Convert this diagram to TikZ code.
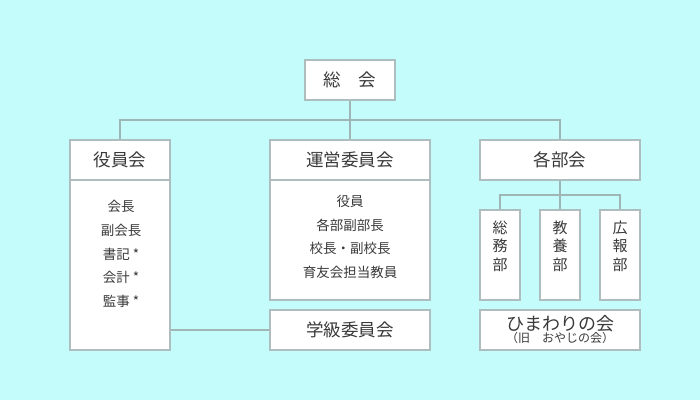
\documentclass[tikz,border=0pt]{standalone}
\usepackage{fontspec}
\setmainfont{Noto Sans CJK JP}
\usepackage{xcolor}
\definecolor{bgcyan}{HTML}{C4FCFC}
\definecolor{boxgray}{HTML}{AEBEBE}
\definecolor{linegray}{HTML}{A0B6B6}
\definecolor{textgray}{HTML}{3A3A3A}
\tikzset{
	box/.style={draw=boxgray, line width=1.6pt, fill=white, inner sep=0pt, text=textgray},
	headbox/.style={box, font=\fontsize{17.5}{21}\selectfont},
	listtext/.style={text=textgray, align=center, inner sep=0pt, font=\fontsize{13.5}{23.7}\selectfont},
	subtext/.style={text=textgray, align=center, inner sep=0pt, font=\fontsize{15}{18.5}\selectfont},
	link/.style={draw=linegray, line width=1.6pt}
}

\begin{document}
\begin{tikzpicture}[x=1pt, y=-1pt]
	\fill[bgcyan] (0,0) rectangle (700,400);
	\useasboundingbox (0,0) rectangle (700,400);

	% 総会
	\node[headbox, minimum width=90, minimum height=40] (soukai) at (350,80) {総　会};

	% 役員会
	\node[headbox, minimum width=100, minimum height=40] (yakuhead) at (120,160) {役員会};
	\node[box, minimum width=100, minimum height=170] (yakubody) at (120,265) {};
	\node[listtext] (yakulist) at (121,254) {会長\\副会長\\書記 *\\会計 *\\監事 *};

	% 運営委員会
	\node[headbox, minimum width=160, minimum height=40] (ueihead) at (350,160) {運営委員会};
	\node[box, minimum width=160, minimum height=120] (ueibody) at (350,240) {};
	\node[listtext] (ueilist) at (350,237) {役員\\各部副部長\\校長・副校長\\育友会担当教員};
	\node[headbox, minimum width=160, minimum height=40] (gakkyu) at (350,330) {学級委員会};

	% 各部会
	\node[headbox, minimum width=160, minimum height=40] (kakubu) at (560,160) {各部会};
	\foreach \x/\n/\a/\b in {500/soumu/総/務, 560/kyouyou/教/養, 620/kouhou/広/報}
	{
		\node[box, minimum width=40, minimum height=90] (\n) at (\x,255) {};
		\node[subtext] (\n-t) at (\x,246) {\a\\\b\\部};
	}
	\node[box, minimum width=160, minimum height=40, align=center] (himawari) at (560,330)
		{{\fontsize{18}{20}\selectfont ひまわりの会}\\[0pt]{\fontsize{12}{13}\selectfont （旧　おやじの会）}};

	% connectors
	\coordinate (hub) at (350,120);
	\coordinate (bu) at (560,195);
	\draw[link] (soukai.south) -- (ueihead.north);
	\draw[link] (yakuhead.north) |- (hub) -| (kakubu.north);
	\draw[link] (kakubu.south) -- (kyouyou.north);
	\draw[link] (soumu.north) |- (bu) -| (kouhou.north);
	\draw[link] (gakkyu.west) -- (gakkyu.west -| yakubody.east);
\end{tikzpicture}
\end{document}
